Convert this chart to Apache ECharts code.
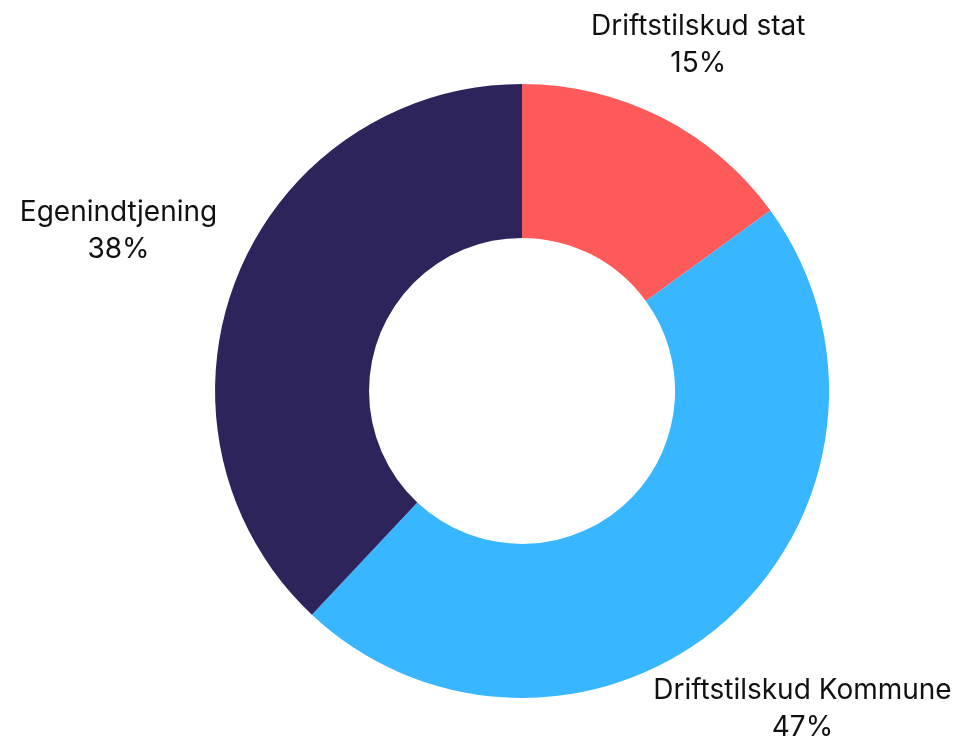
<!DOCTYPE html>
<html>
<head>
<meta charset="utf-8">
<script src="https://cdn.jsdelivr.net/npm/echarts@6/dist/echarts.min.js"></script>
<style>
  html, body { margin: 0; padding: 0; background: #fff; }
  #chart { width: 980px; height: 746px; }
</style>
</head>
<body>
<div id="chart"></div>
<script>
// andele i procent
const categories = ['Driftstilskud stat', 'Driftstilskud Kommune', 'Egenindtjening'];
const shares = [15, 47, 38];
const colors = ['#FF5A5A', '#38B6FF', '#2E245C'];

const chartDom = document.getElementById('chart');
const chart = echarts.init(chartDom);

const total = shares.reduce(function(a, b) { return a + b; }, 0);
const labelRadius = 434;
const pad = 8;

function placeLabel(params) {
    const w = chart.getWidth();
    const h = chart.getHeight();
    const cx = w * 0.5327;
    const cy = h * 0.524;
    let before = 0;
    for (let i = 0; i < params.dataIndex; i++) before += shares[i];
    const mid = (before + shares[params.dataIndex] / 2) / total * Math.PI * 2;
    const dx = Math.sin(mid);
    const dy = -Math.cos(mid);
    const hw = params.labelRect.width / 2;
    const hh = params.labelRect.height / 2;
    let r = labelRadius;
    // rykker teksten ind mod midten hvis den går ud over kanten
    for (; r > 320; r -= 1) {
        const x = cx + dx * r;
        const y = cy + dy * r;
        if (x - hw >= pad && x + hw <= w - pad && y - hh >= pad && y + hh <= h) break;
    }
    return {
        x: cx + dx * r,
        y: cy + dy * r,
        align: 'center',
        verticalAlign: 'middle'
    };
}

const option = {
    animation: false,
    color: colors,
    series: [
        {
            type: 'pie',
            center: ['53.27%', '52.4%'],
            radius: [153, 307],
            startAngle: 90,
            clockwise: true,
            avoidLabelOverlap: false,
            data: categories.map(function(name, i) {
                return { name: name, value: shares[i] };
            }),
            itemStyle: { borderWidth: 0 },
            label: {
                show: true,
                position: 'outside',
                formatter: '{b}\n{d}%',
                fontFamily: 'Inter',
                fontSize: 28,
                lineHeight: 37,
                color: '#111111',
                align: 'center'
            },
            labelLine: { show: false },
            labelLayout: placeLabel
        }
    ]
};

chart.setOption(option);
window.addEventListener('resize', function() { chart.resize(); });
</script>
</body>
</html>
